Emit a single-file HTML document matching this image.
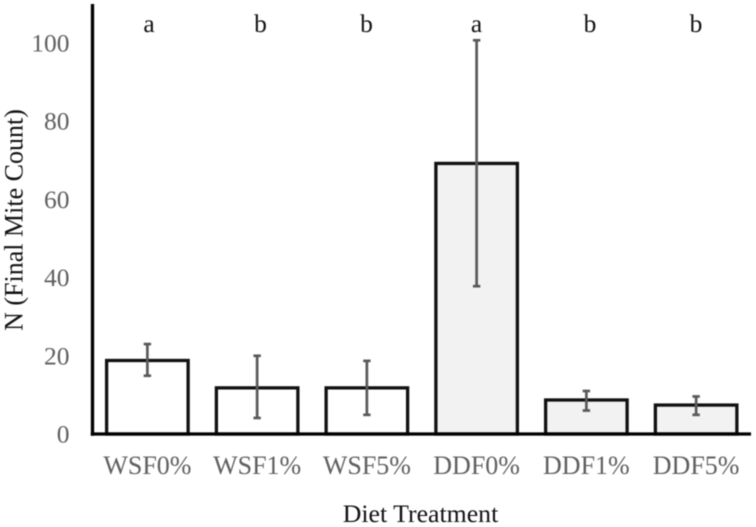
<!DOCTYPE html>
<html lang="en">
<head>
<meta charset="utf-8">
<title>Final Mite Count by Diet Treatment</title>
<style>
  html, body { margin: 0; padding: 0; background: #fff; }
  svg { display: block; font-family: "Liberation Serif", serif; filter: blur(0.45px); }
</style>
</head>
<body>
<svg id="chart" width="756" height="527" viewBox="0 0 756 527" xmlns="http://www.w3.org/2000/svg">
  <rect x="0" y="0" width="756" height="527" fill="#fff"></rect>
  <text transform="translate(22.7,220) rotate(-90)" text-anchor="middle" font-size="26" fill="#111">N (Final Mite Count)</text>
  <text x="420.5" y="522" text-anchor="middle" font-size="25.8" fill="#111">Diet Treatment</text>
  <text x="149" y="32" text-anchor="middle" font-size="25.5" fill="#111">a</text>
  <text x="260.5" y="32" text-anchor="middle" font-size="25.5" fill="#111">b</text>
  <text x="366.5" y="32" text-anchor="middle" font-size="25.5" fill="#111">b</text>
  <text x="476.5" y="32" text-anchor="middle" font-size="25.5" fill="#111">a</text>
  <text x="590" y="32" text-anchor="middle" font-size="25.5" fill="#111">b</text>
  <text x="696" y="32" text-anchor="middle" font-size="25.5" fill="#111">b</text>
</svg>
<script>
const categories = ['WSF0%', 'WSF1%', 'WSF5%', 'DDF0%', 'DDF1%', 'DDF5%'];
const meanValues = [18.8, 11.8, 11.8, 69.2, 8.7, 7.4];
const errorUpper = [23, 20, 18.7, 100.7, 11, 9.6];
const errorLower = [14.9, 4.1, 4.9, 37.8, 6, 4.9];
const barFills = ['#ffffff', '#ffffff', '#ffffff', '#f2f2f2', '#f2f2f2', '#f2f2f2'];
const yTicks = [0, 20, 40, 60, 80, 100];

const svg = document.getElementById('chart');
const NS = 'http://www.w3.org/2000/svg';
const plotLeft = 92.5;
const plotRight = 751;
const baselineY = 434;
const pixelsPerUnit = 3.91;
const band = (plotRight - plotLeft) / categories.length;
const barWidth = 81.5;

function xCenter(i) { return plotLeft + band * (i + 0.5); }
function yPos(v) { return baselineY - v * pixelsPerUnit; }
function make(tag, attrs, text) {
  const el = document.createElementNS(NS, tag);
  for (const k in attrs) el.setAttribute(k, attrs[k]);
  if (text !== undefined) el.textContent = text;
  svg.appendChild(el);
  return el;
}

yTicks.forEach(function (t) {
  const label = make('text', { x: 69.5, y: yPos(t) + 8.5, 'text-anchor': 'end', 'font-size': 25.5, fill: '#5f5f5f' }, String(t));
  
  
});

categories.forEach(function (c, i) {
  const cx = xCenter(i);
  const bar = make('rect', {
    x: cx - barWidth / 2, y: yPos(meanValues[i]),
    width: barWidth, height: baselineY - yPos(meanValues[i]),
    fill: barFills[i], stroke: '#111', 'stroke-width': 3.3
  });
  
  

  const errLine = make('line', { x1: cx, x2: cx, y1: yPos(errorUpper[i]), y2: yPos(errorLower[i]), stroke: '#595959', 'stroke-width': 2.7 });
  
  

  [errorUpper[i], errorLower[i]].forEach(function (v) {
    const cap = make('line', { x1: cx - 3.7, x2: cx + 3.7, y1: yPos(v), y2: yPos(v), stroke: '#595959', 'stroke-width': 2.7 });
    
    
  });

  const catLabel = make('text', { x: cx, y: 474, 'text-anchor': 'middle', 'font-size': 26, fill: '#5f5f5f' }, c);
  
  
});

const yAxis = make('line', { x1: plotLeft, x2: plotLeft, y1: 4, y2: baselineY + 1.7, stroke: '#000', 'stroke-width': 3.3 });



const xAxis = make('line', { x1: plotLeft - 1.7, x2: plotRight, y1: baselineY, y2: baselineY, stroke: '#000', 'stroke-width': 3.3 });


</script>
</body>
</html>
